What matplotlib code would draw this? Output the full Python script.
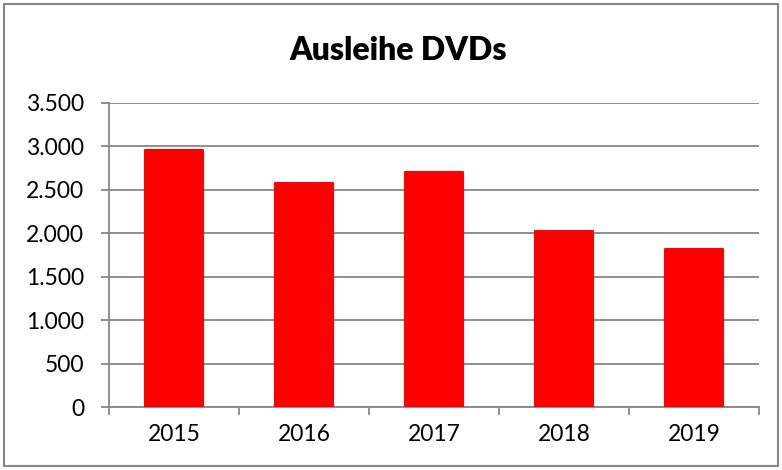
import matplotlib
matplotlib.use("Agg")
import matplotlib.pyplot as plt
from matplotlib.patches import Rectangle
from matplotlib.ticker import FuncFormatter, FixedLocator

years = ["2015", "2016", "2017", "2018", "2019"]
values = [2961, 2584, 2711, 2023, 1819]

plt.rcParams['font.family'] = ['Lato', 'DejaVu Sans']

fig = plt.figure(figsize=(7.82, 4.70), dpi=100)
ax = fig.add_axes([109/782, 1-407/470, 650/782, (407-103)/470])

x = list(range(len(years)))
ax.bar(x, values, width=0.45, color='#ff0000', edgecolor='#ff0000',
       linewidth=1.5, joinstyle='round', zorder=3)

ax.set_xlim(-0.5, len(years) - 0.5)
ax.set_ylim(0, 3500)
ax.set_yticks(range(0, 3501, 500))
ax.yaxis.set_major_formatter(FuncFormatter(lambda v, p: f"{int(v):,}".replace(",", ".")))
ax.grid(axis='y', color='#868686', linewidth=1.3, zorder=0)

ax.xaxis.set_major_locator(FixedLocator([i - 0.5 for i in range(len(years) + 1)]))
ax.set_xticklabels([])
ax.set_xticks(x, minor=True)
ax.set_xticklabels(years, minor=True)
ax.tick_params(axis='x', which='major', length=6, width=1.3, color='#868686', direction='out')
ax.tick_params(axis='x', which='minor', length=0, labelsize=16.5, pad=12, labelcolor='black')
ax.tick_params(axis='y', length=6, width=1.3, color='#868686', labelsize=16.5, pad=12, labelcolor='black')

for s in ['top', 'right']:
    ax.spines[s].set_visible(False)
for s in ['left', 'bottom']:
    ax.spines[s].set_color('#868686')
    ax.spines[s].set_linewidth(1.3)

fig.text(398/782, 1-50/470, "Ausleihe DVDs", ha='center', va='center',
         fontsize=23, fontweight='heavy')

fig.patches.append(Rectangle((4/782, 4/470), 774/782, 462/470, transform=fig.transFigure,
                             fill=False, edgecolor='#868686', linewidth=1.5))

fig.savefig("out.png", dpi=100)
